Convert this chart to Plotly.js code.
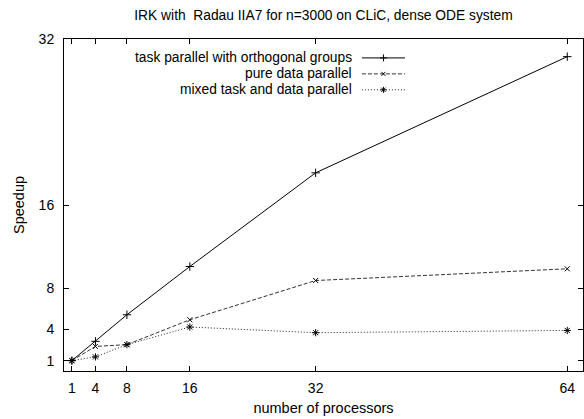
<!DOCTYPE html>
<html>
<head>
<meta charset="utf-8">
<script src="https://cdn.plot.ly/plotly-3.0.1.min.js"></script>
<style>html,body{margin:0;padding:0;background:#fff;}</style>
</head>
<body>
<div id="chart" style="width:584px;height:419px;"></div>
<script>
const processors = [1, 4, 8, 16, 32, 64];
const taskParallel = [1, 2.86, 5.42, 10.07, 19.1, 30.3];
const pureData = [1, 2.37, 2.54, 4.94, 8.72, 9.85];
const mixed = [1, 1.36, 2.54, 4.24, 3.69, 3.91];
const seriesNames = ["task parallel with orthogonal groups", "pure data parallel", "mixed task and data parallel"];
const xTicks = [1, 4, 8, 16, 32, 64];
const yTicks = [1, 4, 8, 16, 32];

const fam = "Liberation Sans, Arial, sans-serif";
const tickFont = {family: fam, size: 14, color: "#000"};
const keyFont = {family: fam, size: 13.8, color: "#000"};
const titleFont = {family: fam, size: 13.8, color: "#000"};
const axTitleFont = {family: fam, size: 14.5, color: "#000"};
const styles = [
  {dash: "solid", symbol: "cross-thin", size: 6, color: "#000"},
  {dash: "4px,2px", symbol: "x-thin", size: 5, color: "#333"},
  {dash: "1px,2px", symbol: "asterisk", size: 6, color: "#222"}
];
const seriesY = [taskParallel, pureData, mixed];

const traces = [];
seriesY.forEach((ys, i) => {
  traces.push({
    x: processors, y: ys, type: "scatter", mode: "lines+markers",
    name: seriesNames[i], showlegend: false,
    line: {color: styles[i].color, width: 1, dash: styles[i].dash},
    marker: {symbol: styles[i].symbol, size: styles[i].size, color: "#000", line: {color: "#000", width: 1}},
    xaxis: "x", yaxis: "y", hoverinfo: "skip"
  });
});

// key (gnuplot-style legend) on overlay axes in [0,1]
const keyRows = [0.943, 0.895, 0.847];
const keyX0 = 0.574, keyX1 = 0.657, keyText = 0.556;
const annotations = [];
seriesNames.forEach((nm, i) => {
  traces.push({
    x: [keyX0, keyX1], y: [keyRows[i], keyRows[i]], type: "scatter", mode: "lines",
    line: {color: styles[i].color, width: 1, dash: styles[i].dash},
    xaxis: "x2", yaxis: "y2", showlegend: false, hoverinfo: "skip"
  });
  traces.push({
    x: [(keyX0 + keyX1) / 2], y: [keyRows[i]], type: "scatter", mode: "markers",
    marker: {symbol: styles[i].symbol, size: styles[i].size - 1, color: "#000", line: {color: "#000", width: 1}},
    xaxis: "x2", yaxis: "y2", showlegend: false, hoverinfo: "skip"
  });
  annotations.push({
    xref: "x2", yref: "y2", x: keyText, y: keyRows[i], text: nm,
    xanchor: "right", yanchor: "middle", showarrow: false, font: keyFont, borderpad: 0
  });
});

const layout = {
  width: 584, height: 419,
  margin: {l: 64, r: 1, t: 39, b: 48, pad: 0},
  paper_bgcolor: "#fff", plot_bgcolor: "#fff",
  font: tickFont,
  showlegend: false,
  title: {text: "IRK with\u00a0\u00a0Radau IIA7 for n=3000 on CLiC, dense ODE system",
          font: titleFont, x: 0.5, xanchor: "center", y: 1 - 15 / 419, yanchor: "middle", xref: "paper"},
  xaxis: {
    range: [0, 66], tickvals: xTicks, ticktext: xTicks.map(String),
    ticks: "inside", ticklen: 5, tickcolor: "#000", tickwidth: 1,
    showline: true, linecolor: "#000", linewidth: 1, mirror: "allticks",
    showgrid: false, zeroline: false, tickfont: tickFont, ticklabelstandoff: 4,
    title: {text: "number of processors", font: axTitleFont, standoff: 8}
  },
  yaxis: {
    range: [0, 32], tickvals: yTicks, ticktext: yTicks.map(String),
    ticks: "inside", ticklen: 5, tickcolor: "#000", tickwidth: 1,
    showline: true, linecolor: "#000", linewidth: 1, mirror: "allticks",
    showgrid: false, zeroline: false, tickfont: tickFont, ticklabelstandoff: 6,
    title: {text: "Speedup", font: axTitleFont, standoff: 10}
  },
  xaxis2: {overlaying: "x", range: [0, 1], visible: false, fixedrange: true},
  yaxis2: {overlaying: "y", range: [0, 1], visible: false, fixedrange: true},
  annotations: annotations
};

Plotly.newPlot("chart", traces, layout, {staticPlot: true, displayModeBar: false});
</script>
</body>
</html>
